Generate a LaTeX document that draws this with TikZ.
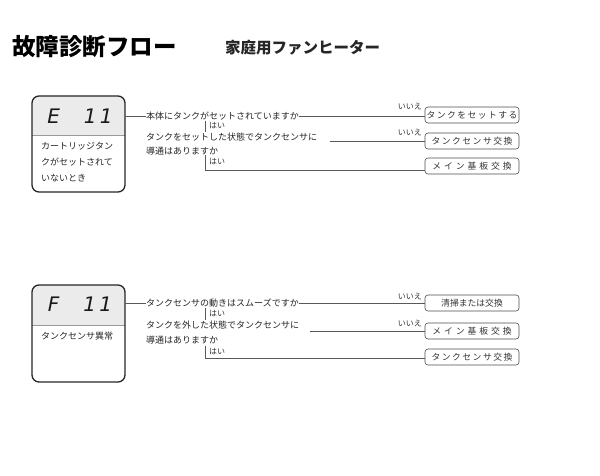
\documentclass[tikz,border=0pt]{standalone}
\usepackage{fontspec}
\setmainfont{Noto Sans CJK JP}
\newfontfamily\segfont{DejaVu Sans}
\begin{document}
\begin{tikzpicture}[x=1pt,y=-1pt,
  ln/.style={draw=black!65,line width=0.6pt},
  code/.style={rounded corners=7pt,draw=black!85,line width=1.3pt},
  ans/.style={draw=black!70,line width=0.6pt,rounded corners=3pt,minimum width=94pt,minimum height=16pt,inner sep=0pt,font=\fontsize{8.8}{10}\selectfont,text=black!80},
  q/.style={anchor=west,inner sep=0pt,font=\fontsize{9}{10}\selectfont,text=black!85},
  sm/.style={anchor=west,inner sep=0pt,font=\fontsize{8}{9}\selectfont,text=black!80},
  seg/.style={font=\segfont\itshape\fontsize{20}{20}\selectfont,text=black!90},
  desc/.style={anchor=north west,inner sep=0pt,align=left,font=\fontsize{9}{16}\selectfont,text=black!85}]
\useasboundingbox (0,0) rectangle (600,476);
\node[anchor=west,inner sep=0pt,font=\bfseries\fontsize{23.5}{26}\selectfont] (title) at (12,47) {故障診断フロー};
\node[anchor=west,inner sep=0pt,font=\bfseries\fontsize{15.5}{18}\selectfont,text=black!85] (sub) at (225,48) {家庭用ファンヒーター};
% Box E11
\fill[black!8,rounded corners=7pt] (32,96) rectangle (125,140);
\fill[white] (32,135) rectangle (125,145);
\draw[black!40] (32,135) -- (125,135);
\draw[code] (32,96) rectangle (125,192);
\coordinate (b1) at (125,116);
\node[seg] (e11) at (80,116) {E\hspace{24pt}1\,1};
\node[desc] (d1) at (41,142) {カートリッジタン\\クがセットされて\\いないとき};
\node[q] (q1) at (146,116) {本体にタンクがセットされていますか};
\node[ans] (a1) at (472,115) {タ\,ン\,ク\,を\,セ\,ッ\,ト\,す\,る};
\node[ans] (a2) at (472,141) {タ\,ン\,ク\,セ\,ン\,サ\,交\,換};
\node[ans] (a3) at (472,166) {メ\,\,イ\,\,ン\,\,基\,\,板\,\,交\,\,換};
\draw[ln] (b1) -- (q1.west);
\draw[ln] (q1.east) -- (a1.west |- q1.east);
\node[sm,anchor=east] (n1) at (422,107) {いいえ};
\draw[ln] (205,121) -- (205,132);
\node[sm] (y1) at (209,126) {はい};
\node[q] (q2) at (146,137) {タンクをセットした状態でタンクセンサに};
\node[q] (q2b) at (146,151) {導通はありますか};
\draw[ln] (330,141) -- (a2.west);
\node[sm,anchor=east] (n2) at (422,133) {いいえ};
\draw[ln] (205,155) -- (205,170) -- (a3.west |- 0,170);
\node[sm] (y2) at (209,162) {はい};
% Box F11
\fill[black!8,rounded corners=7pt] (32,285) rectangle (125,330);
\fill[white] (32,325) rectangle (125,335);
\draw[black!40] (32,325) -- (125,325);
\draw[code] (32,285) rectangle (125,382);
\coordinate (b2) at (125,303);
\node[seg] (f11) at (80,304) {F\hspace{24pt}1\,1};
\node[desc] (d2) at (41,332) {タンクセンサ異常};
\node[q] (q3) at (146,303) {タンクセンサの動きはスムーズですか};
\node[ans] (a4) at (472,303) {清掃または交換};
\node[ans] (a5) at (472,331) {メ\,\,イ\,\,ン\,\,基\,\,板\,\,交\,\,換};
\node[ans] (a6) at (472,357) {タ\,ン\,ク\,セ\,ン\,サ\,交\,換};
\draw[ln] (b2) -- (q3.west);
\draw[ln] (q3.east) -- (a4.west |- q3.east);
\node[sm,anchor=east] (n3) at (422,297) {いいえ};
\draw[ln] (205,308) -- (205,320);
\node[sm] (y3) at (209,314) {はい};
\node[q] (q4) at (146,325) {タンクを外した状態でタンクセンサに};
\node[q] (q4b) at (146,340) {導通はありますか};
\draw[ln] (310,331) -- (a5.west);
\node[sm,anchor=east] (n4) at (422,324) {いいえ};
\draw[ln] (205,346) -- (205,358) -- (a6.west |- 0,358);
\node[sm] (y4) at (209,352) {はい};
\end{tikzpicture}
\end{document}
